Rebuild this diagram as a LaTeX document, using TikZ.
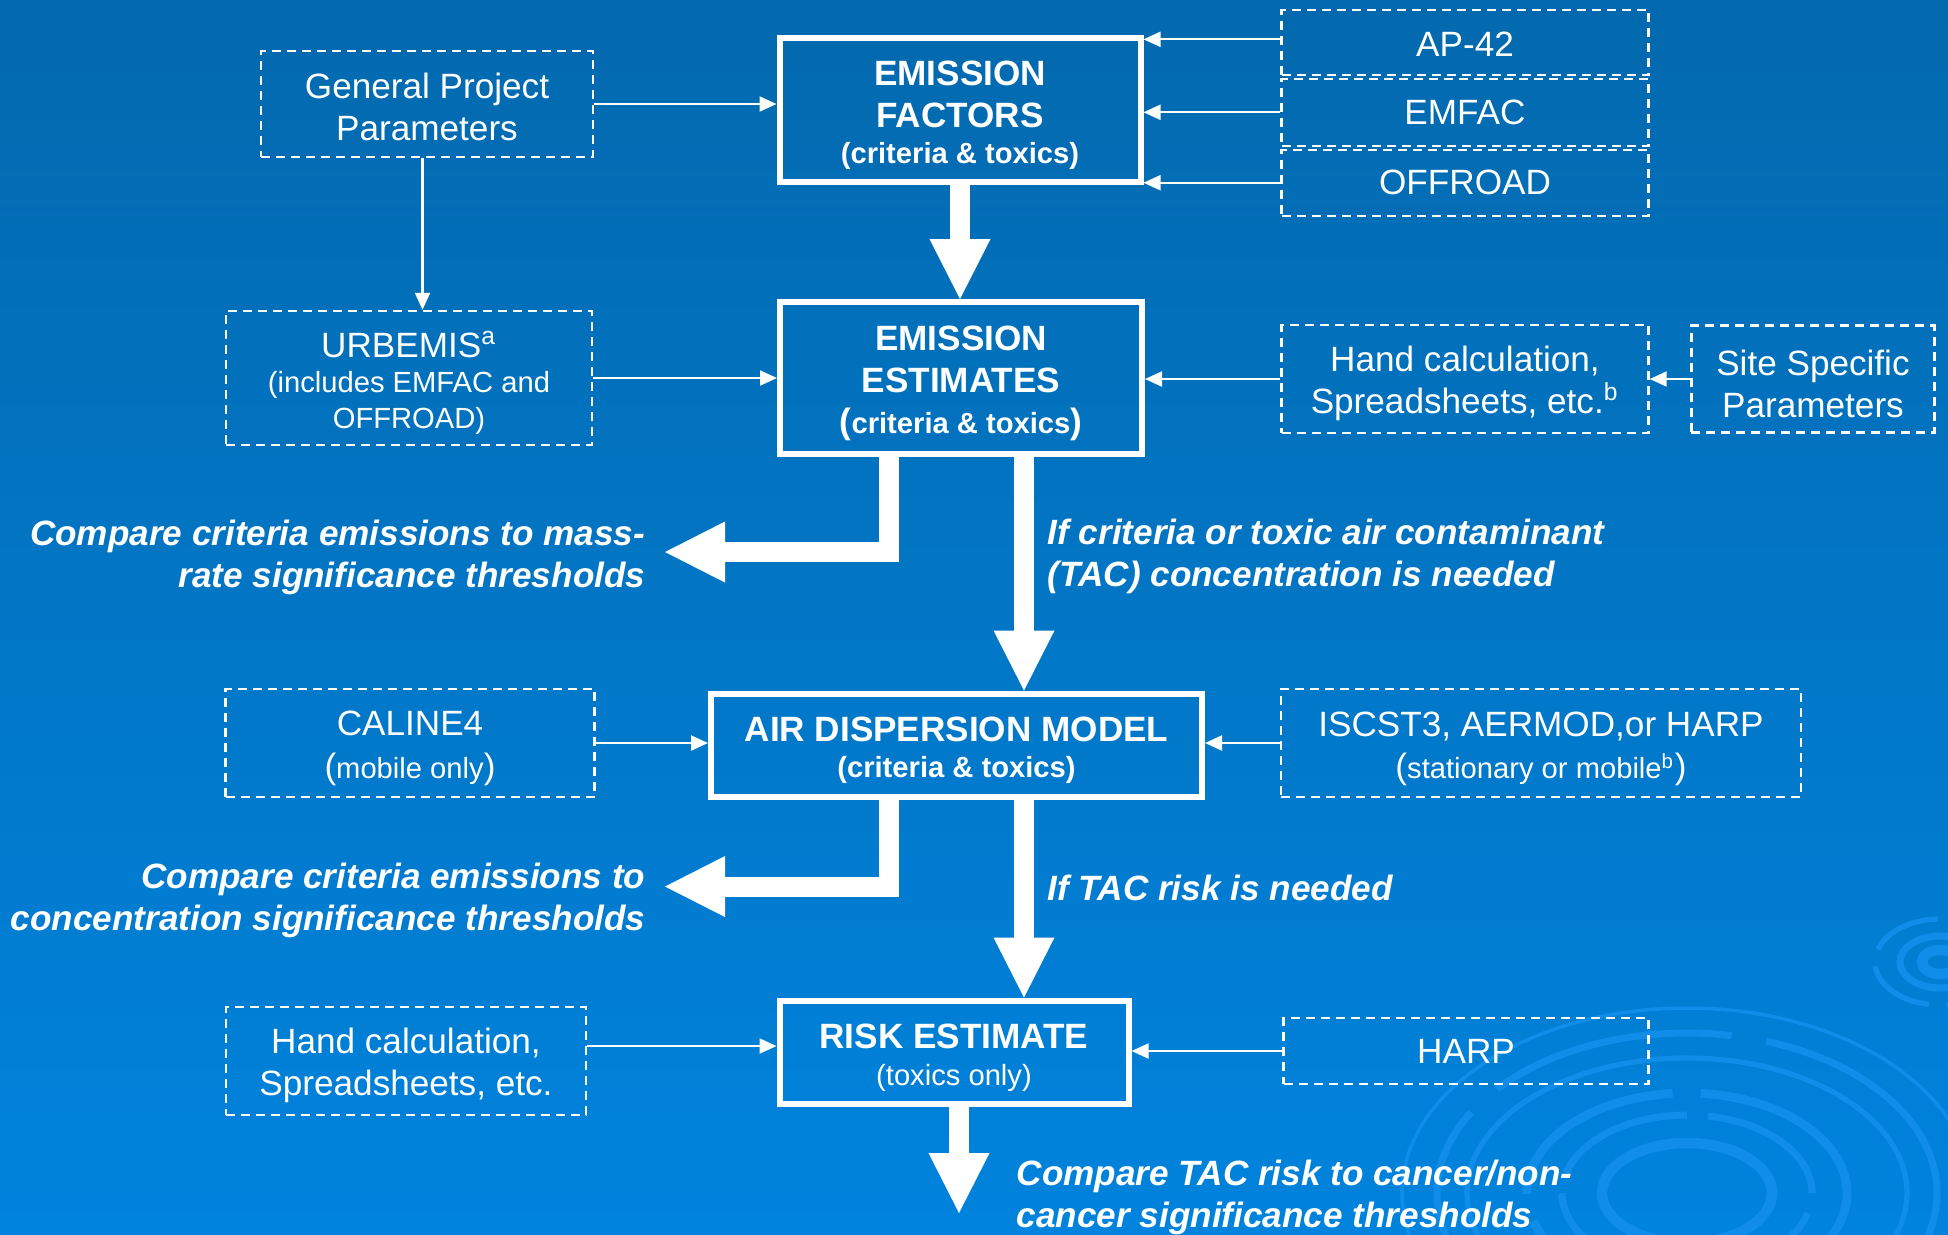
\documentclass[tikz,border=0pt]{standalone}
\usepackage{fontspec}
\setmainfont{Liberation Sans}
\usetikzlibrary{arrows.meta,positioning}
\definecolor{bgtop}{RGB}{3,105,174}
\definecolor{bgbottom}{RGB}{0,131,221}
\definecolor{ripplecol}{RGB}{16,141,232}
\newcommand{\subtxt}{\fontsize{8.3}{10}\selectfont}
\newcommand{\bparen}[1]{{\fontsize{10}{12}\selectfont #1}}
\newcommand{\snk}[1][10.1pt]{\rule{0pt}{#1}}
\tikzset{
  mainbox/.style={rectangle, draw=white, line width=0.6mm, text=white, align=center,
    font=\fontsize{10}{12}\selectfont\bfseries, inner sep=0pt},
  srcbox/.style={rectangle, draw=white, line width=0.7pt, dash pattern=on 0.9mm off 0.6mm,
    text=white, align=center, font=\fontsize{10}{12}\selectfont, inner sep=0pt},
  note/.style={text=white, font=\fontsize{10}{12}\selectfont\bfseries\itshape, inner sep=0pt},
  thinarrow/.style={-{Triangle[length=1.7mm,width=1.5mm]}, white, line width=0.6pt},
  fatarrow/.style={-{Triangle[length=6mm,width=6.1mm,line width=0pt]}, white, line width=2mm},
  ripple/.style={draw=ripplecol},
}

\begin{document}
\begin{tikzpicture}

% background and ripples
\fill[top color=bgtop, bottom color=bgbottom] (0,0) rectangle (19.48,-12.34);
\useasboundingbox (0,0) rectangle (19.48,-12.34);
\begin{scope}
\clip (0,0) rectangle (19.48,-12.34);
\draw[ripple, line width=3pt] (16.87,-11.93) ellipse (0.85 and 0.5);
\draw[ripple, line width=2pt, dash pattern=on 40pt off 6pt] (16.87,-11.93) ellipse (1.25 and 0.78);
\draw[ripple, line width=2.5pt, dash pattern=on 55pt off 8pt] (16.87,-11.93) ellipse (1.6 and 1.0);
\draw[ripple, line width=1.5pt] (16.87,-11.93) ellipse (2.2 and 1.35);
\draw[ripple, line width=2pt, dash pattern=on 70pt off 10pt] (16.87,-11.93) ellipse (2.5 and 1.6);
\draw[ripple, line width=1pt] (16.87,-11.93) ellipse (2.85 and 1.85);
\draw[ripple, line width=3pt] (19.40,-9.62) ellipse (0.18 and 0.12);
\draw[ripple, line width=2pt] (19.40,-9.62) ellipse (0.4 and 0.26);
\draw[ripple, line width=1.5pt, dash pattern=on 20pt off 5pt] (19.40,-9.62) ellipse (0.65 and 0.43);
\end{scope}

% main column
\node[mainbox, minimum width=3.61cm, minimum height=1.44cm] (ef) at (9.60,-1.10)
  {\snk EMISSION\\FACTORS\\[-1.8pt]{\subtxt (criteria \& toxics)}};
\node[mainbox, minimum width=3.62cm, minimum height=1.52cm] (ee) at (9.61,-3.78)
  {\snk EMISSION\\ESTIMATES\\[-0.3pt]{\subtxt\bparen{(}criteria \& toxics\bparen{)}}};
\node[mainbox, minimum width=4.91cm, minimum height=1.03cm] (adm) at (9.565,-7.45)
  {\snk AIR DISPERSION MODEL\\[-1.9pt]{\subtxt (criteria \& toxics)}};
\node[mainbox, minimum width=3.49cm, minimum height=1.03cm] (re) at (9.54,-10.52)
  {\snk RISK ESTIMATE\\[-1.6pt]{\subtxt\mdseries (toxics only)}};

% inputs
\node[srcbox, minimum width=3.32cm, minimum height=1.06cm] (gpp) at (4.27,-1.04) {\snk[8.7pt]General Project\\Parameters};
\node[srcbox, minimum width=3.66cm, minimum height=1.34cm] (urb) at (4.09,-3.78)
  {\snk URBEMIS\textsuperscript{a}\\[-1.8pt]{\subtxt (includes EMFAC and}\\[-1.9pt]{\subtxt OFFROAD)}};
\node[srcbox, minimum width=3.67cm, minimum height=0.65cm] (ap42) at (14.65,-0.423) {\snk[8.3pt]AP-42};
\node[srcbox, minimum width=3.67cm, minimum height=0.67cm, below=0.15mm of ap42] (emfac) {EMFAC};
\node[srcbox, minimum width=3.67cm, minimum height=0.66cm, below=0.15mm of emfac] (offroad) {OFFROAD};
\node[srcbox, minimum width=3.67cm, minimum height=1.08cm] (hcb) at (14.65,-3.79)
  {\snk[9.6pt]Hand calculation,\\Spreadsheets, etc.\textsuperscript{b}};
\node[srcbox, minimum width=2.43cm, minimum height=1.07cm, right=4.05mm of hcb] (site) {\snk Site Specific\\Parameters};
\node[srcbox, minimum width=3.69cm, minimum height=1.08cm] (cal) at (4.10,-7.43)
  {\snk CALINE4\\[0.35pt]\bparen{(}{\subtxt mobile only}\bparen{)}};
\node[srcbox, minimum width=5.20cm, minimum height=1.08cm] (isc) at (15.41,-7.43)
  {\snk ISCST3, AERMOD,or HARP\\\bparen{(}{\subtxt stationary or mobile\textsuperscript{b}}\bparen{)}};
\node[srcbox, minimum width=3.60cm, minimum height=1.08cm] (hc) at (4.06,-10.61) {\snk[9.6pt]Hand calculation,\\Spreadsheets, etc.};
\node[srcbox, minimum width=3.65cm, minimum height=0.66cm] (harp) at (14.66,-10.51) {HARP};

% decision texts
\node[note, align=right, anchor=north east] (cmpmass) at (6.46,-5.19)
  {Compare criteria emissions to mass-\\rate significance thresholds};
\node[note, align=left, anchor=north west] (ifconc) at (10.47,-5.18)
  {If criteria or toxic air contaminant\\(TAC) concentration is needed};
\node[note, align=right, anchor=north east] (cmpconc) at (6.46,-8.62)
  {Compare criteria emissions to\\concentration significance thresholds};
\node[note, anchor=north west] (ifrisk) at (10.47,-8.74) {If TAC risk is needed};
\node[note, align=left, anchor=north west] (cmprisk) at (10.16,-11.59)
  {Compare TAC risk to cancer/non-\\cancer significance thresholds};

\coordinate (massend) at (6.65,-5.52);
\coordinate (concend) at (6.65,-8.865);
\coordinate (riskend) at (9.59,-12.13);

% thin input arrows
\draw[thinarrow] (gpp.east) -- (gpp.east -| ef.west);
\draw[thinarrow] ([xshift=-0.45mm]gpp.south) -- ([xshift=-0.45mm]gpp.south |- urb.north);
\draw[thinarrow] (urb.east) -- (urb.east -| ee.west);
\draw[thinarrow] ([yshift=0.3mm]ap42.west) -- ([yshift=0.3mm]ap42.west -| ef.east);
\draw[thinarrow] (emfac.west) -- (emfac.west -| ef.east);
\draw[thinarrow] (offroad.west) -- (offroad.west -| ef.east);
\draw[thinarrow] (hcb.west) -- (hcb.west -| ee.east);
\draw[thinarrow] (site.west) -- (site.west -| hcb.east);
\draw[thinarrow] (cal.east) -- (cal.east -| adm.west);
\draw[thinarrow] (isc.west) -- (isc.west -| adm.east);
\draw[thinarrow] ([yshift=1.5mm]hc.east) -- ([yshift=1.5mm]hc.east -| re.west);
\draw[thinarrow] (harp.west) -- (harp.west -| re.east);

% big flow arrows
\draw[fatarrow] (ef.south) -- (ef.south |- ee.north);
\draw[fatarrow] ([xshift=-7.2mm]ee.south) |- (massend);
\draw[fatarrow] ([xshift=6.3mm]ee.south) -- ([xshift=6.3mm]ee.south |- adm.north);
\draw[fatarrow] ([xshift=-6.75mm]adm.south) |- (concend);
\draw[fatarrow] ([xshift=6.75mm]adm.south) -- ([xshift=6.75mm]adm.south |- re.north);
\draw[fatarrow] (re.south -| riskend) -- (riskend);

\end{tikzpicture}
\end{document}
